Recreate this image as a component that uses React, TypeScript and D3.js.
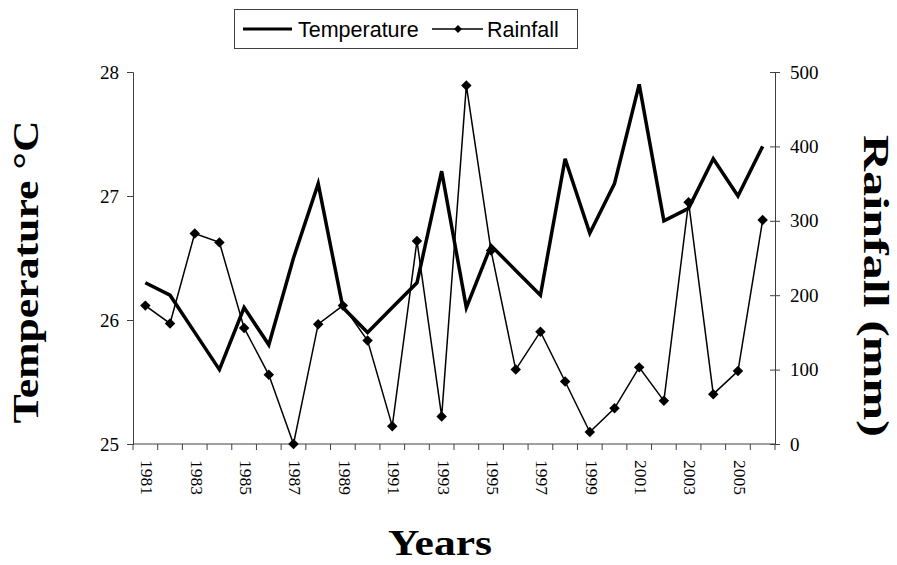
import { useEffect, useRef } from "react";
import * as d3 from "d3";

// chart data
const years = d3.range(1981, 2007).map(String);
const temperature = [
    26.3, 26.2, 25.9, 25.6, 26.1, 25.8, 26.5, 27.1, 26.1, 25.9,
    26.1, 26.3, 27.2, 26.1, 26.6, 26.4, 26.2, 27.3, 26.7, 27.1,
    27.9, 26.8, 26.9, 27.3, 27.0, 27.4,
];
const rainfall = [
    186, 162, 283, 271, 156, 93, 0, 161, 186, 139,
    24, 273, 37, 482, 260, 100, 151, 84, 16, 48,
    103, 58, 325, 67, 98, 301,
];
const tempTicks = [25, 26, 27, 28];
const rainTicks = [0, 100, 200, 300, 400, 500];
const yearLabels = years.filter((d) => +d % 2 === 1);

const width = 897;
const height = 565;
const margin = { top: 72, right: 122, bottom: 121, left: 133 };

const serif = "'Liberation Serif', 'Times New Roman', serif";
const sans = "'Liberation Sans', Arial, sans-serif";

const drawChart = (node: SVGSVGElement) => {
    const svg = d3.select(node);
    svg.selectAll("*").remove();

    const x = d3.scaleBand()
        .domain(years)
        .range([margin.left, width - margin.right]);
    const yTemp = d3.scaleLinear()
        .domain([25, 28])
        .range([height - margin.bottom, margin.top]);
    const yRain = d3.scaleLinear()
        .domain([0, 500])
        .range([height - margin.bottom, margin.top]);

    const cx = (d: string) => (x(d) ?? 0) + x.bandwidth() / 2;
    const axisColor = "#404040";

    // left axis
    const left = svg.append("g")
        .attr("transform", `translate(${margin.left},0)`)
        .call(d3.axisLeft(yTemp).tickValues(tempTicks).tickSize(6).tickPadding(8).tickFormat(d3.format("d")));
    // right axis
    const right = svg.append("g")
        .attr("transform", `translate(${width - margin.right},0)`)
        .call(d3.axisRight(yRain).tickValues(rainTicks).tickSize(5).tickPadding(10).tickFormat(d3.format("d")));
    right.selectAll(".tick line").attr("x1", -5);

    // bottom axis: ticks at band boundaries
    const bottom = svg.append("g")
        .attr("transform", `translate(0,${height - margin.bottom})`);
    bottom.append("line")
        .attr("x1", margin.left)
        .attr("x2", width - margin.right)
        .attr("stroke", axisColor);
    bottom.selectAll("line.tk")
        .data(d3.range(years.length + 1))
        .join("line")
        .attr("class", "tk")
        .attr("x1", (i) => margin.left + i * x.step())
        .attr("x2", (i) => margin.left + i * x.step())
        .attr("y1", 0)
        .attr("y2", 6)
        .attr("stroke", axisColor);
    bottom.selectAll("text")
        .data(yearLabels)
        .join("text")
        .attr("transform", (d) => `translate(${cx(d) + 2},16) rotate(90)`)
        .attr("dy", "0.35em")
        .attr("font-family", serif)
        .attr("font-size", 17.5)
        .text((d) => d);

    [left, right].forEach((g) => {
        g.select(".domain").attr("stroke", axisColor);
        g.selectAll(".tick line").attr("stroke", axisColor);
        g.selectAll("text")
            .attr("font-family", serif)
            .attr("font-size", 19)
            .attr("fill", "#000");
    });

    // temperature line
    svg.append("path")
        .datum(temperature)
        .attr("fill", "none")
        .attr("stroke", "#000")
        .attr("stroke-width", 3.5)
        .attr("stroke-linejoin", "miter")
        .attr("d", d3.line<number>()
            .x((_, i) => cx(years[i]))
            .y((d) => yTemp(d)));

    // rainfall line + diamonds
    svg.append("path")
        .datum(rainfall)
        .attr("fill", "none")
        .attr("stroke", "#000")
        .attr("stroke-width", 1.5)
        .attr("d", d3.line<number>()
            .x((_, i) => cx(years[i]))
            .y((d) => yRain(d)));

    const diamond = d3.symbol().type(d3.symbolDiamond2).size(70);
    svg.selectAll("path.dot")
        .data(rainfall)
        .join("path")
        .attr("class", "dot")
        .attr("transform", (d, i) => `translate(${cx(years[i])},${yRain(d)})`)
        .attr("d", diamond())
        .attr("fill", "#000");

    // axis titles
    svg.append("text")
        .attr("transform", `translate(38,272) rotate(-90)`)
        .attr("text-anchor", "middle")
        .attr("font-family", serif)
        .attr("font-weight", "bold")
        .attr("font-size", 35)
        .attr("textLength", 303)
        .attr("lengthAdjust", "spacingAndGlyphs")
        .text("Temperature °C");
    svg.append("text")
        .attr("transform", `translate(864,286) rotate(90)`)
        .attr("text-anchor", "middle")
        .attr("font-family", serif)
        .attr("font-weight", "bold")
        .attr("font-size", 35)
        .attr("textLength", 302)
        .attr("lengthAdjust", "spacingAndGlyphs")
        .text("Rainfall (mm)");
    svg.append("text")
        .attr("x", 440)
        .attr("y", 555)
        .attr("text-anchor", "middle")
        .attr("font-family", serif)
        .attr("font-weight", "bold")
        .attr("font-size", 35)
        .attr("textLength", 104)
        .attr("lengthAdjust", "spacingAndGlyphs")
        .text("Years");

    // legend
    const legend = svg.append("g");
    legend.append("rect")
        .attr("x", 234.5).attr("y", 9.5)
        .attr("width", 343).attr("height", 39)
        .attr("fill", "#fff")
        .attr("stroke", "#404040");
    legend.append("line")
        .attr("x1", 243).attr("x2", 292)
        .attr("y1", 29).attr("y2", 29)
        .attr("stroke", "#000").attr("stroke-width", 3);
    legend.append("text")
        .attr("x", 298).attr("y", 29).attr("dy", "0.35em")
        .attr("font-family", sans).attr("font-size", 21.5)
        .text("Temperature");
    legend.append("line")
        .attr("x1", 432).attr("x2", 483)
        .attr("y1", 29).attr("y2", 29)
        .attr("stroke", "#000").attr("stroke-width", 1.5);
    legend.append("path")
        .attr("transform", "translate(458,29)")
        .attr("d", d3.symbol().type(d3.symbolDiamond2).size(40)())
        .attr("fill", "#000");
    legend.append("text")
        .attr("x", 487).attr("y", 29).attr("dy", "0.35em")
        .attr("font-family", sans).attr("font-size", 21.5)
        .text("Rainfall");
};

export default function App() {
    const ref = useRef<SVGSVGElement>(null);

    useEffect(() => {
        if (ref.current) drawChart(ref.current);
    }, []);

    return (
        <svg
            ref={ref}
            width={width}
            height={height}
            style={{ position: "absolute", left: 0, top: 0, background: "#fff" }}
        />
    );
}
